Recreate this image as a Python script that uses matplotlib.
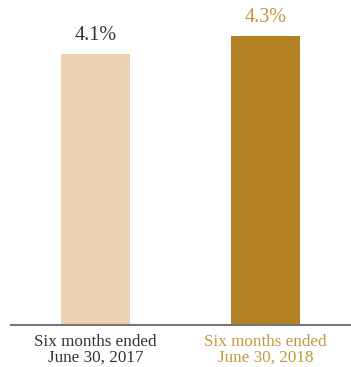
import matplotlib.pyplot as plt

plt.rcParams.update({
    'font.family': ['Liberation Serif', 'DejaVu Serif'],
})

periods = ['Six months ended\nJune 30, 2017', 'Six months ended\nJune 30, 2018']
rates = [4.1, 4.3]
bar_colors = ['#EDD2B2', '#B38123']
text_colors = ['#333333', '#C3973F']

fig = plt.figure(figsize=(3.51, 3.67), dpi=100)
ax = fig.add_axes([11 / 351, 1 - 325 / 367, 340 / 351, 325 / 367])

x = list(range(len(rates)))
ax.bar(x, rates, width=0.406, color=bar_colors, bottom=0)

for xi, v, c in zip(x, rates, text_colors):
    ax.annotate(f'{v:.1f}%', (xi, v), xytext=(0, 6.5), textcoords='offset points',
                ha='center', va='bottom', fontsize=14.5, color=c)

ax.set_xlim(-0.497, 1.503)
ax.set_ylim(1.05, 4.708)

ax.set_xticks(x)
ax.set_xticklabels(periods, fontsize=12.3, linespacing=1.0)
for lbl, c in zip(ax.get_xticklabels(), text_colors):
    lbl.set_color(c)
ax.tick_params(axis='x', length=0, pad=6.5)
ax.set_yticks([])

for side in ['top', 'left', 'right']:
    ax.spines[side].set_visible(False)
ax.spines['bottom'].set_color('#777777')
ax.spines['bottom'].set_linewidth(1.5)

fig.savefig('out.png', dpi=100)
